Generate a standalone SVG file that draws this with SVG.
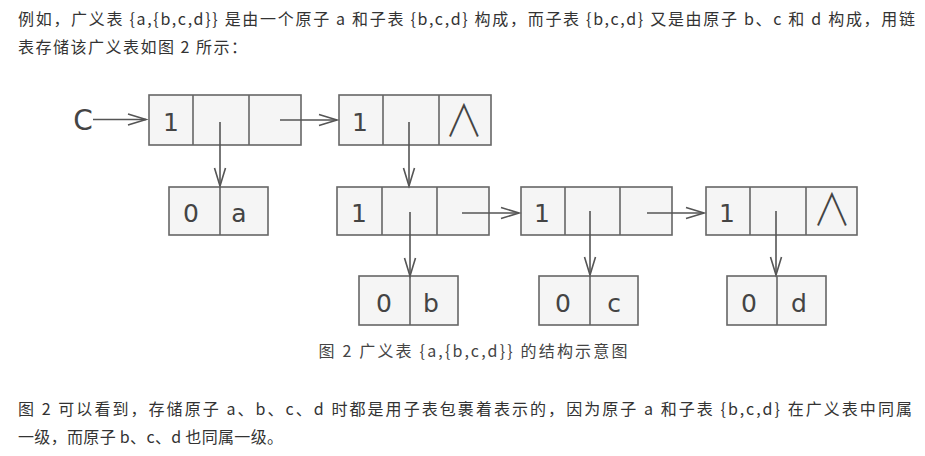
<svg xmlns="http://www.w3.org/2000/svg" width="925" height="456" viewBox="0 0 925 456">
  <style>
    .para { font-family: "Noto Sans CJK SC", "Liberation Sans", sans-serif; font-size: 16px; fill: #333; }
    .caption { font-family: "Noto Sans CJK SC", "Liberation Sans", sans-serif; font-size: 16px; fill: #444; text-anchor: middle; }
    .cell { fill: #f5f5f5; stroke: #666; stroke-width: 1.6; }
    .div { stroke: #666; stroke-width: 1.6; }
    .lbl { font-family: "DejaVu Sans", sans-serif; font-size: 25px; fill: #444; text-anchor: middle; }
    .nil { font-family: "Noto Sans CJK SC", "DejaVu Sans", sans-serif; font-weight: 200; font-size: 44px; fill: #444; text-anchor: middle; }
    .link { stroke: #555; stroke-width: 1.6; fill: none; marker-end: url(#head); }
  </style>
  <defs>
    <marker id="head" markerUnits="userSpaceOnUse" markerWidth="24" markerHeight="16" refX="0" refY="0" viewBox="-20 -8 24 16" orient="auto" overflow="visible">
      <path d="M-18,-5.5 L0,0 L-18,5.5" fill="none" stroke="#555" stroke-width="1.6"/>
    </marker>
  </defs>

  <rect width="925" height="456" fill="#fff"/>

  <!-- paragraph above -->
  <text class="para" x="18" y="25" textLength="897">例如，广义表 {a,{b,c,d}} 是由一个原子 a 和子表 {b,c,d} 构成，而子表 {b,c,d} 又是由原子 b、c 和 d 构成，用链</text>
  <text class="para" x="18" y="53" textLength="229">表存储该广义表如图 2 所示：</text>

  <!-- head pointer label -->
  <g id="head-label">
    <text class="lbl" x="83" y="130" style="font-size:28px">C</text>
  </g>

  <!-- list nodes: tag | head pointer | tail pointer -->
  <g id="n1">
    <rect class="cell" x="149" y="95" width="152" height="50"/>
    <line class="div" x1="193" y1="95" x2="193" y2="145"/>
    <line class="div" x1="249" y1="95" x2="249" y2="145"/>
    <text class="lbl" x="171" y="131">1</text>
  </g>
  <g id="n2">
    <rect class="cell" x="339" y="95" width="152" height="50"/>
    <line class="div" x1="383" y1="95" x2="383" y2="145"/>
    <line class="div" x1="439" y1="95" x2="439" y2="145"/>
    <text class="lbl" x="360" y="131">1</text>
    <text class="nil" x="464" y="137" transform="translate(464 0) scale(0.87 1) translate(-464 0)">∧</text>
  </g>
  <g id="n3">
    <rect class="cell" x="337" y="187" width="152" height="48"/>
    <line class="div" x1="382" y1="187" x2="382" y2="235"/>
    <line class="div" x1="437" y1="187" x2="437" y2="235"/>
    <text class="lbl" x="359" y="222">1</text>
  </g>
  <g id="n4">
    <rect class="cell" x="521" y="187" width="151" height="48"/>
    <line class="div" x1="565" y1="187" x2="565" y2="235"/>
    <line class="div" x1="620" y1="187" x2="620" y2="235"/>
    <text class="lbl" x="542" y="222">1</text>
  </g>
  <g id="n5">
    <rect class="cell" x="706" y="187" width="151" height="48"/>
    <line class="div" x1="750" y1="187" x2="750" y2="235"/>
    <line class="div" x1="806" y1="187" x2="806" y2="235"/>
    <text class="lbl" x="727" y="222">1</text>
    <text class="nil" x="832" y="226" transform="translate(832 0) scale(0.87 1) translate(-832 0)">∧</text>
  </g>

  <!-- atom nodes: tag | value -->
  <g id="atom-a">
    <rect class="cell" x="169" y="187" width="99" height="48"/>
    <line class="div" x1="220" y1="187" x2="220" y2="235"/>
    <text class="lbl" x="191" y="222">0</text>
    <text class="lbl" x="239" y="222">a</text>
  </g>
  <g id="atom-b">
    <rect class="cell" x="359" y="276" width="99" height="49"/>
    <line class="div" x1="410" y1="276" x2="410" y2="325"/>
    <text class="lbl" x="384" y="312">0</text>
    <text class="lbl" x="431" y="312">b</text>
  </g>
  <g id="atom-c">
    <rect class="cell" x="539" y="276" width="99" height="49"/>
    <line class="div" x1="590" y1="276" x2="590" y2="325"/>
    <text class="lbl" x="563" y="312">0</text>
    <text class="lbl" x="614" y="312">c</text>
  </g>
  <g id="atom-d">
    <rect class="cell" x="727" y="276" width="99" height="49"/>
    <line class="div" x1="777" y1="276" x2="777" y2="325"/>
    <text class="lbl" x="749" y="312">0</text>
    <text class="lbl" x="799" y="312">d</text>
  </g>

  <!-- pointers -->
  <g id="links">
    <line class="link" x1="93" y1="119.5" x2="146" y2="119.5"/>
    <line class="link" x1="280" y1="120" x2="337" y2="120"/>
    <line class="link" x1="220" y1="122" x2="220" y2="186"/>
    <line class="link" x1="409" y1="122" x2="409" y2="186"/>
    <line class="link" x1="410" y1="212" x2="410" y2="276"/>
    <line class="link" x1="462" y1="213" x2="519" y2="213"/>
    <line class="link" x1="590" y1="211" x2="590" y2="275"/>
    <line class="link" x1="647" y1="213" x2="704" y2="213"/>
    <line class="link" x1="776" y1="211" x2="776" y2="275"/>
  </g>

  <!-- caption -->
  <text class="caption" x="473" y="357" textLength="309">图 2 广义表 {a,{b,c,d}} 的结构示意图</text>

  <!-- paragraph below -->
  <text class="para" x="18" y="415" textLength="894">图 2 可以看到，存储原子 a、b、c、d 时都是用子表包裹着表示的，因为原子 a 和子表 {b,c,d} 在广义表中同属</text>
  <text class="para" x="18" y="443" textLength="265">一级，而原子 b、c、d 也同属一级。</text>
</svg>
